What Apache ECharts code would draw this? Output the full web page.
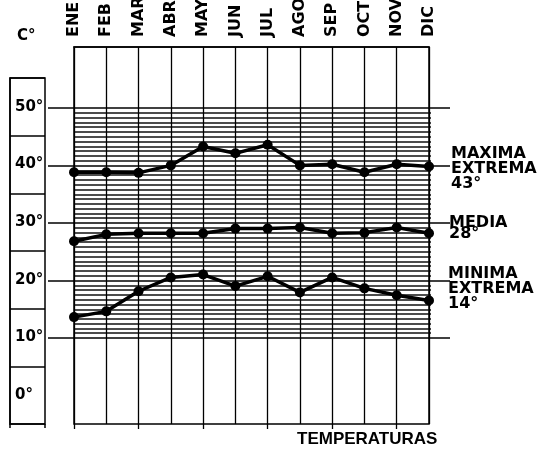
<!DOCTYPE html>
<html>
<head>
<meta charset="utf-8">
<script src="https://cdn.jsdelivr.net/npm/echarts@6/dist/echarts.min.js"></script>
<style>
  html, body { margin: 0; padding: 0; background: #fff; }
  #chart { width: 542px; height: 454px; }
</style>
</head>
<body>
<div id="chart"></div>
<script>
// datos
var meses = ["ENE", "FEB", "MAR", "ABR", "MAY", "JUN", "JUL", "AGO", "SEP", "OCT", "NOV", "DIC"];
var maxima = [38.8, 38.8, 38.7, 40.0, 43.3, 42.1, 43.6, 40.0, 40.2, 38.8, 40.2, 39.8];
var media = [26.8, 28.0, 28.2, 28.2, 28.2, 29.0, 29.0, 29.2, 28.2, 28.3, 29.2, 28.2];
var minima = [13.6, 14.6, 18.1, 20.5, 21.0, 19.0, 20.7, 17.9, 20.5, 18.6, 17.4, 16.5];
var escala = ["0°", "10°", "20°", "30°", "40°", "50°"];

var FONT = "DejaVu Sans";
var myChart = echarts.init(document.getElementById("chart"), null, { renderer: "canvas" });

function serie(nombre, datos) {
  return {
    name: nombre,
    type: "line",
    xAxisIndex: 0,
    yAxisIndex: 0,
    data: datos,
    symbol: "circle",
    symbolSize: 10,
    lineStyle: { color: "#000", width: 3.5 },
    itemStyle: { color: "#000" },
    z: 10,
    animation: false,
  };
}

var option = {
  backgroundColor: "#fff",
  animation: false,
  grid: [
    // grafico principal
    { left: 74, right: 113, top: 47, bottom: 30, show: true, borderColor: "#000", borderWidth: 1.5, outerBoundsMode: "none", containLabel: false },
    // lineas 10..50 largas
    { left: 48, right: 92, top: 108, bottom: 116, outerBoundsMode: "none" },
    // rayado
    { left: 74, right: 111, top: 108, bottom: 116, outerBoundsMode: "none" },
    // columna de la izquierda
    { left: 10, right: 497, top: 78, bottom: 30, show: true, borderColor: "#000", borderWidth: 1.5, outerBoundsMode: "none" },
  ],
  xAxis: [
    {
      type: "category",
      gridIndex: 0,
      position: "top",
      boundaryGap: false,
      data: meses,
      axisLine: { show: true, onZero: false, lineStyle: { color: "#000", width: 1.5 } },
      axisTick: { show: false },
      splitLine: { show: true, lineStyle: { color: "#000", width: 1.3 } },
      axisLabel: {
        rotate: -90,
        margin: 10,
        color: "#000",
        fontFamily: FONT,
        fontWeight: "bold",
        fontSize: 16,
      },
    },
    { type: "value", gridIndex: 1, show: false },
    { type: "value", gridIndex: 2, show: false },
    {
      type: "value",
      gridIndex: 3,
      min: 0,
      max: 1,
      interval: 1,
      axisLine: { show: false, onZero: false },
      axisTick: { show: true, length: 4, lineStyle: { color: "#000", width: 1.5 } },
      axisLabel: { show: false },
      splitLine: { show: false },
    },
    {
      type: "category",
      gridIndex: 0,
      position: "bottom",
      boundaryGap: false,
      data: meses,
      axisLine: { show: false, onZero: false },
      axisTick: { show: true, length: 5, lineStyle: { color: "#000", width: 1.3 } },
      axisLabel: { show: false },
    },
  ],
  yAxis: [
    { type: "value", gridIndex: 0, min: -5, max: 60.6, show: false },
    {
      type: "value",
      gridIndex: 1,
      min: 10,
      max: 50,
      interval: 10,
      axisLine: { show: false },
      axisTick: { show: false },
      axisLabel: { show: false },
      splitLine: { show: true, lineStyle: { color: "#000", width: 1.5 } },
    },
    {
      type: "value",
      gridIndex: 2,
      min: 10,
      max: 50,
      interval: 10,
      axisLine: { show: false },
      axisTick: { show: false },
      axisLabel: { show: false },
      splitLine: { show: false },
      minorTick: { show: false, splitNumber: 12 },
      minorSplitLine: { show: true, lineStyle: { color: "#111", width: 1.7 } },
    },
    {
      type: "category",
      gridIndex: 3,
      data: escala,
      boundaryGap: true,
      axisLine: { show: true, lineStyle: { color: "#000", width: 1.5 } },
      axisTick: { show: false },
      splitLine: { show: true, lineStyle: { color: "#000", width: 1.5 } },
      axisLabel: {
        inside: true,
        margin: 5,
        color: "#000",
        fontFamily: FONT,
        fontWeight: "bold",
        fontSize: 15,
      },
    },
  ],
  graphic: [
    { type: "text", left: 17, top: 29, style: { text: "C°", font: "bold 15px " + FONT, fill: "#000" } },
    { type: "text", left: 451, top: 146, style: { text: "MAXIMA\nEXTREMA\n43°", font: "bold 16px " + FONT, fill: "#000", lineHeight: 15 } },
    { type: "text", left: 449, top: 215, style: { text: "MEDIA\n28°", font: "bold 16px " + FONT, fill: "#000", lineHeight: 11 } },
    { type: "text", left: 448, top: 266, style: { text: "MINIMA\nEXTREMA\n14°", font: "bold 16px " + FONT, fill: "#000", lineHeight: 15 } },
    { type: "text", left: 297, top: 431, style: { text: "TEMPERATURAS", font: "bold 17px Liberation Sans", fill: "#000" } },
  ],
  series: [
    serie("MAXIMA EXTREMA", maxima),
    serie("MEDIA", media),
    serie("MINIMA EXTREMA", minima),
  ],
};

myChart.setOption(option);
window.addEventListener("resize", function () {
  myChart.resize();
});
</script>
</body>
</html>
